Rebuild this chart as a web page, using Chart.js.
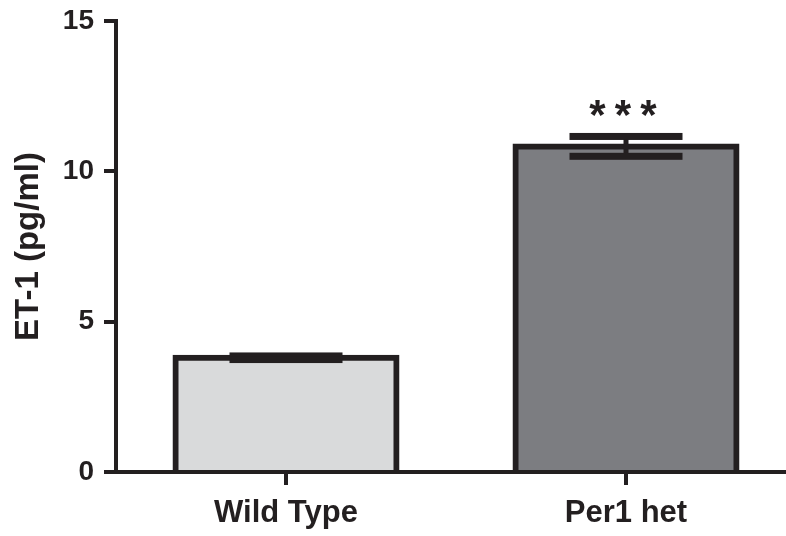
<!DOCTYPE html>
<html>
<head>
<meta charset="utf-8">
<script src="https://cdn.jsdelivr.net/npm/chart.js@4/dist/chart.umd.min.js"></script>
<style>
  html, body { margin: 0; padding: 0; background: #fff; overflow: hidden; }
  canvas { display: block; }
</style>
</head>
<body>
<canvas id="et1Chart" width="800" height="536"></canvas>
<script>
// Datos
const categories = ['Wild Type', 'Per1 het'];
const meanValues = [3.8, 10.83];
const semValues = [0.06, 0.33];
const significance = ['', '***'];
const yTicks = [0, 5, 10, 15];

const ink = '#231f20';
const fontFamily = '"Liberation Sans", Arial, Helvetica, sans-serif';

// Barras de error y asteriscos dibujados sobre la escala Y
const errorBarPlugin = {
    id: 'errorBars',
    afterDatasetsDraw(chart) {
        const ctx = chart.ctx;
        const yScale = chart.scales.y;
        const meta = chart.getDatasetMeta(0);
        ctx.save();
        ctx.fillStyle = ink;
        meta.data.forEach((bar, i) => {
            const x = bar.x;
            const yHigh = yScale.getPixelForValue(meanValues[i] + semValues[i]);
            const yLow = yScale.getPixelForValue(meanValues[i] - semValues[i]);
            const capW = 113, capH = 7, stemW = 5;
            ctx.fillRect(x - stemW / 2, yHigh, stemW, yLow - yHigh);
            ctx.fillRect(x - capW / 2, yHigh - capH / 2, capW, capH);
            ctx.fillRect(x - capW / 2, yLow - capH / 2, capW, capH);

            // Asteriscos de significancia
            const stars = significance[i];
            if (stars) {
                ctx.font = 'bold 42px ' + fontFamily;
                ctx.textAlign = 'center';
                ctx.textBaseline = 'alphabetic';
                const spacing = 25.5;
                const start = x - 3 - spacing * (stars.length - 1) / 2;
                for (let k = 0; k < stars.length; k++) {
                    ctx.fillText(stars[k], start + k * spacing, yHigh - 7);
                }
            }
        });
        ctx.restore();
    }
};

const ctx = document.getElementById('et1Chart').getContext('2d');
const et1Chart = new Chart(ctx, {
    type: 'bar',
    data: {
        labels: categories,
        datasets: [{
            data: meanValues,
            backgroundColor: ['#d9dadb', '#7c7d81'],
            borderColor: ink,
            borderWidth: 6,
            borderSkipped: 'start',
            inflateAmount: 3, // centra el borde sobre el valor
            barPercentage: 0.65,
            categoryPercentage: 1.0
        }]
    },
    options: {
        responsive: false,
        animation: false,
        layout: { padding: { top: 21, right: 4, left: 0, bottom: 0 } },
        plugins: {
            legend: { display: false },
            tooltip: { enabled: false }
        },
        scales: {
            x: {
                z: 1,
                afterFit: (scale) => { scale.height = 64; },
                grid: {
                    offset: false,
                    drawOnChartArea: false,
                    drawTicks: true,
                    tickLength: 13,
                    color: ink,
                    lineWidth: 4
                },
                border: { display: true, color: ink, width: 4 },
                ticks: {
                    color: ink,
                    padding: 10,
                    font: { family: fontFamily, size: 31, weight: 'bold' }
                }
            },
            y: {
                min: 0,
                max: 15,
                afterFit: (scale) => {
                    scale.width = 116;
                    scale.paddingTop = 0;
                    scale.paddingBottom = 0;
                },
                afterBuildTicks: (scale) => { scale.ticks = yTicks.map(v => ({ value: v })); },
                grid: {
                    drawOnChartArea: false,
                    drawTicks: true,
                    tickLength: 12,
                    color: ink,
                    lineWidth: 4
                },
                border: { display: true, color: ink, width: 4 },
                ticks: {
                    color: ink,
                    padding: 10,
                    font: { family: fontFamily, size: 28, weight: 'bold' }
                },
                title: {
                    display: true,
                    text: 'ET-1 (pg/ml)',
                    color: ink,
                    padding: { top: 9, bottom: 0 },
                    font: { family: fontFamily, size: 33, weight: 'bold' }
                }
            }
        }
    },
    plugins: [errorBarPlugin]
});
</script>
</body>
</html>
